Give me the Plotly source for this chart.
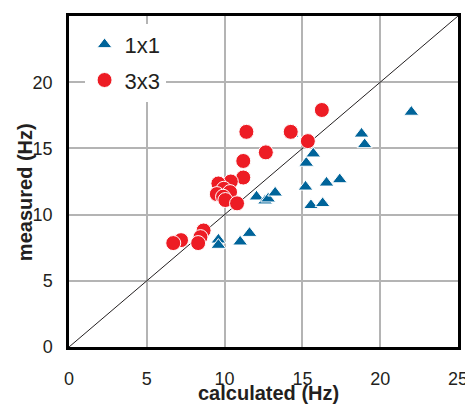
import plotly.graph_objects as go

# 1x1 series (triangles)
calc_1x1 = [9.6, 9.6, 11.0, 11.6, 12.05, 12.6, 12.8, 13.25, 15.2, 15.55, 16.3, 16.55,
            17.4, 15.25, 15.7, 14.3, 18.8, 19.0, 22.0]
meas_1x1 = [8.1, 7.7, 7.95, 8.6, 11.35, 11.05, 11.2, 11.65, 12.1, 10.7, 10.85, 12.4,
            12.65, 13.9, 14.6, 16.1, 16.1, 15.3, 17.75]

# 3x3 series (circles)
calc_3x3 = [16.25, 11.4, 14.25, 15.35, 12.65, 11.2, 11.2, 10.4, 9.6, 9.95, 10.35, 9.5,
            9.9, 10.05, 10.8, 8.65, 8.45, 8.3, 7.2, 6.7]
meas_3x3 = [17.9, 16.25, 16.25, 15.55, 14.7, 14.05, 12.8, 12.5, 12.35, 11.95, 11.7, 11.55,
            11.35, 11.1, 10.85, 8.8, 8.3, 7.85, 8.07, 7.85]

ticks = [0, 5, 10, 15, 20, 25]
diag = [0, 25]

BLUE = "#00649A"
RED = "#ED1C24"
FONT = "Liberation Sans, Arial, sans-serif"

fig = go.Figure()
fig.add_trace(go.Scatter(x=diag, y=diag, mode="lines", line=dict(color="#231f20", width=1),
                         showlegend=False, hoverinfo="skip"))
fig.add_trace(go.Scatter(x=calc_1x1, y=meas_1x1, mode="markers", name="1x1", legendgroup="a",
                         marker=dict(symbol="triangle-up", size=13, color=BLUE,
                                     line=dict(color="white", width=1))))
fig.add_trace(go.Scatter(x=calc_3x3, y=meas_3x3, mode="markers", name="3x3", legendgroup="b",
                         marker=dict(symbol="circle", size=15, color=RED,
                                     line=dict(color="white", width=1))))

axis_common = dict(range=[0, 25], tickvals=ticks, showgrid=True,
                   gridcolor="#b4b4b4", gridwidth=1.5,
                   zeroline=False, showline=True, linecolor="black", linewidth=2.5, mirror=True,
                   ticks="outside", tickcolor="white", tickwidth=1,
                   tickfont=dict(family=FONT, size=18, color="#231f20"))

fig.update_xaxes(**axis_common, ticklen=14)
fig.update_yaxes(**axis_common, ticklen=10)

fig.add_annotation(text="<b>calculated (Hz)</b>", xref="paper", yref="paper", x=0.514, y=-0.139,
                   xanchor="center", yanchor="middle", showarrow=False,
                   font=dict(family=FONT, size=20, color="#231f20"))
fig.add_annotation(text="<b>measured (Hz)</b>", xref="paper", yref="paper", x=-0.113, y=0.468,
                   xanchor="center", yanchor="middle", showarrow=False, textangle=-90,
                   font=dict(family=FONT, size=20, color="#231f20"))

fig.update_layout(
    template="none",
    width=465, height=399,
    margin=dict(l=61, r=15, t=8, b=60),
    plot_bgcolor="white",
    legend=dict(x=0.04, y=0.977, xanchor="left", yanchor="top", bgcolor="white",
                borderwidth=0, traceorder="grouped", tracegroupgap=4,
                font=dict(family=FONT, size=22, color="#231f20")),
)

fig.write_html("out.html")
